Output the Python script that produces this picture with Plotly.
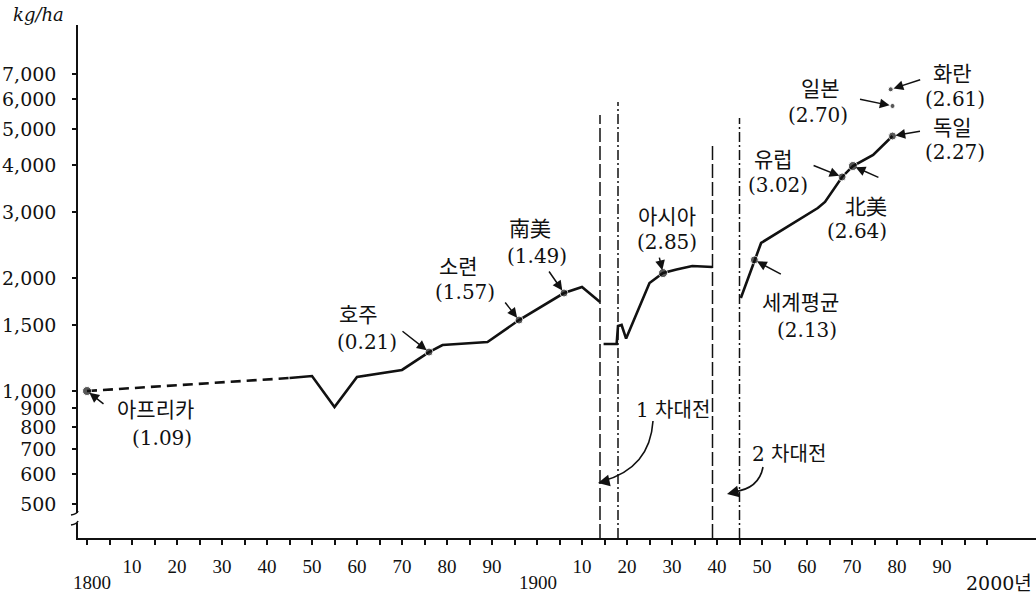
import math
import plotly.graph_objects as go

# ---------------- data ----------------
pre_years = [1800, 1845]
pre_vals = [1000, 1083]

seg1_years = [1845, 1850, 1855, 1860, 1870, 1876, 1879, 1889, 1896, 1906, 1910, 1914]
seg1_vals = [1083, 1096, 906, 1090, 1138, 1270, 1326, 1351, 1546, 1825, 1894, 1727]

seg2_years = [1914.8, 1917.7, 1918.0, 1918.8, 1919.8, 1925, 1928, 1931, 1934.5, 1939]
seg2_vals = [1335, 1335, 1490, 1500, 1380, 1940, 2063, 2110, 2154, 2141]

seg3_years = [1945.3, 1948.3, 1949.8, 1962.4, 1964, 1967.8, 1970.2, 1974.7, 1979]
seg3_vals = [1770, 2236, 2482, 3075, 3193, 3722, 3981, 4262, 4786]

labels = ["아프리카", "호주", "소련", "南美", "아시아", "세계평균", "유럽", "北美", "독일", "일본", "화란"]
label_rates = ["1.09", "0.21", "1.57", "1.49", "2.85", "2.13", "3.02", "2.64", "2.27", "2.70", "2.61"]
label_years = [1800, 1876, 1896, 1906, 1928, 1948.3, 1967.8, 1970.2, 1979, 1979, 1978.6]
label_vals = [1000, 1270, 1546, 1825, 2063, 2236, 3722, 3981, 4786, 5755, 6375]

war_years = [1914, 1918, 1939, 1945]
war_names = ["1 차대전", "2 차대전"]

y_ticks = [500, 600, 700, 800, 900, 1000, 1500, 2000, 3000, 4000, 5000, 6000, 7000]
x_ticks = list(range(1800, 2001, 5))
century_labels = {1800: "1800", 1900: "1900", 2000: "2000년"}

# ---------------- layout helpers (pixel -> paper) ----------------
W, H = 1036, 593
L, T, B = 78, 25, 538
PW, PH = W - L, B - T


def px(x):
    return (x - L) / PW


def py(y):
    return (B - y) / PH


SERIF = "DejaVu Serif"
KFONT = "DejaVu Serif, Noto Sans CJK KR"
INK = "#111111"

fig = go.Figure()

fig.add_trace(go.Scatter(x=pre_years, y=pre_vals, mode="lines",
                         line=dict(color=INK, width=2.6, dash="10px,6px")))
for xs, ys in [(seg1_years, seg1_vals), (seg2_years, seg2_vals), (seg3_years, seg3_vals)]:
    fig.add_trace(go.Scatter(x=xs, y=ys, mode="lines",
                             line=dict(color=INK, width=2.6)))
fig.add_trace(go.Scatter(x=label_years, y=label_vals, mode="markers",
                         marker=dict(color=INK, size=[9, 8, 8, 8, 9, 8, 8, 9, 8, 5, 5])))

# war lines
war_dash = ["14px,4px", "10px,3px,2px,3px", "14px,4px", "10px,3px,2px,3px"]
war_top = [115, 102, 143, 118]
shapes = []
for yr, d, tp in zip(war_years, war_dash, war_top):
    shapes.append(dict(type="line", xref="x", yref="paper", x0=yr, x1=yr,
                       y0=0, y1=py(tp), line=dict(color=INK, width=1.5, dash=d)))
# axis break on the y axis
shapes.append(dict(type="rect", xref="paper", yref="paper", x0=px(71), x1=px(85),
                   y0=py(523), y1=py(513), fillcolor="white", line=dict(width=0),
                   layer="above"))
for yb in (513, 523):
    shapes.append(dict(type="path", xref="paper", yref="paper",
                       path=f"M {px(71)},{py(yb + 2)} Q {px(77)},{py(yb + 1)} {px(78)},{py(yb - 2)}",
                       line=dict(color=INK, width=1.6), layer="above"))
# curved pointer lines for the wars
shapes.append(dict(type="path", xref="paper", yref="paper",
                   path=f"M {px(653)},{py(421)} Q {px(650)},{py(468)} {px(603)},{py(481)}",
                   line=dict(color=INK, width=1.6)))
shapes.append(dict(type="path", xref="paper", yref="paper",
                   path=f"M {px(763)},{py(467)} Q {px(759)},{py(489)} {px(733)},{py(492)}",
                   line=dict(color=INK, width=1.6)))

annotations = []
# label texts and arrows
label_pos = [((155, 410), (162, 438)), ((358, 315), (367, 342)), ((458, 267), (465, 292)),
             ((530, 229), (537, 256)), ((667, 217), (667, 242)), ((800, 303), (807, 330)),
             ((773, 160), (778, 185)), ((866, 207), (857, 231)), ((952, 128), (955, 152)),
             ((820, 89), (818, 115)), ((952, 74), (955, 99))]
arrow_off = [(18, 14), (-28, -22), (-15, -19), (-16, -23), (-4, -17), (28, 15), (-30, -12),
             (27, 12), (29, -5), (-34, -7), (31, -10)]
for name, rate, yr, v, (p1, p2), (ax, ay) in zip(labels, label_rates, label_years, label_vals,
                                                  label_pos, arrow_off):
    annotations.append(dict(text=name, x=px(p1[0]), y=py(p1[1]), xref="paper", yref="paper",
                            xanchor="center", yanchor="middle", showarrow=False,
                            font=dict(family=KFONT, size=21, color=INK)))
    annotations.append(dict(text=f"({rate})", x=px(p2[0]), y=py(p2[1]), xref="paper",
                            yref="paper", xanchor="center", yanchor="middle", showarrow=False,
                            font=dict(family=SERIF, size=20, color=INK)))
    annotations.append(dict(text="", x=yr, y=math.log10(v), xref="x", yref="y",
                            ax=ax, ay=ay, showarrow=True, arrowhead=2, arrowsize=1.3,
                            arrowwidth=1.5, arrowcolor=INK, standoff=3))

# war names and their arrowheads
for name, (tx, ty), (hx, hy) in zip(war_names, [(673, 410), (789, 454)], [(598, 483), (727, 494)]):
    annotations.append(dict(text=name, x=px(tx), y=py(ty), xref="paper", yref="paper",
                            xanchor="center", yanchor="middle", showarrow=False,
                            font=dict(family=KFONT, size=20, color=INK)))
    annotations.append(dict(text="", x=px(hx), y=py(hy), xref="paper", yref="paper",
                            ax=9, ay=-2, showarrow=True, arrowhead=2, arrowsize=1.3,
                            arrowwidth=1.8, arrowcolor=INK))

# century labels under the axis
for yr, txt in century_labels.items():
    shift = {1800: 5, 1900: 1, 2000: 12}[yr]
    annotations.append(dict(text=txt, x=yr, y=0, xref="x", yref="paper", xanchor="center",
                            yanchor="top", xshift=shift, yshift=-32, showarrow=False,
                            font=dict(family=KFONT if yr == 2000 else "Liberation Serif",
                                      size=19, color=INK)))

# unit label
annotations.append(dict(text="<i>kg/ha</i>", x=px(38), y=py(14), xref="paper", yref="paper",
                        xanchor="center", yanchor="middle", showarrow=False,
                        font=dict(family=SERIF, size=18, color=INK)))

x_text = [("" if (t % 100 == 0 or t % 10) else str(t % 100)) for t in x_ticks]
y_text = [f"{v:,}" for v in y_ticks]

fig.update_layout(
    width=W, height=H,
    margin=dict(l=L, r=0, t=T, b=H - B),
    paper_bgcolor="white", plot_bgcolor="white",
    showlegend=False,
    shapes=shapes, annotations=annotations,
    xaxis=dict(range=[1798, 1798 + PW / 4.5], tickmode="array", tickvals=x_ticks,
               ticktext=x_text, ticks="outside", ticklen=5, tickwidth=1.5, tickcolor=INK,
               showline=True, linecolor=INK, linewidth=2, showgrid=False, zeroline=False,
               tickfont=dict(family="Liberation Serif", size=19, color=INK),
               ticklabelstandoff=5),
    yaxis=dict(type="log", range=[3 - 147 / 375, 3 + 366 / 375], tickmode="array",
               tickvals=y_ticks, ticktext=y_text, ticks="outside", ticklen=4, tickwidth=1.5,
               tickcolor=INK, showline=True, linecolor=INK, linewidth=1.5, showgrid=False,
               zeroline=False, tickfont=dict(family=SERIF, size=19, color=INK),
               ticklabelstandoff=12),
)

fig.write_html("out.html", config={"displayModeBar": False},
               post_script="document.body.style.margin='0px';")
